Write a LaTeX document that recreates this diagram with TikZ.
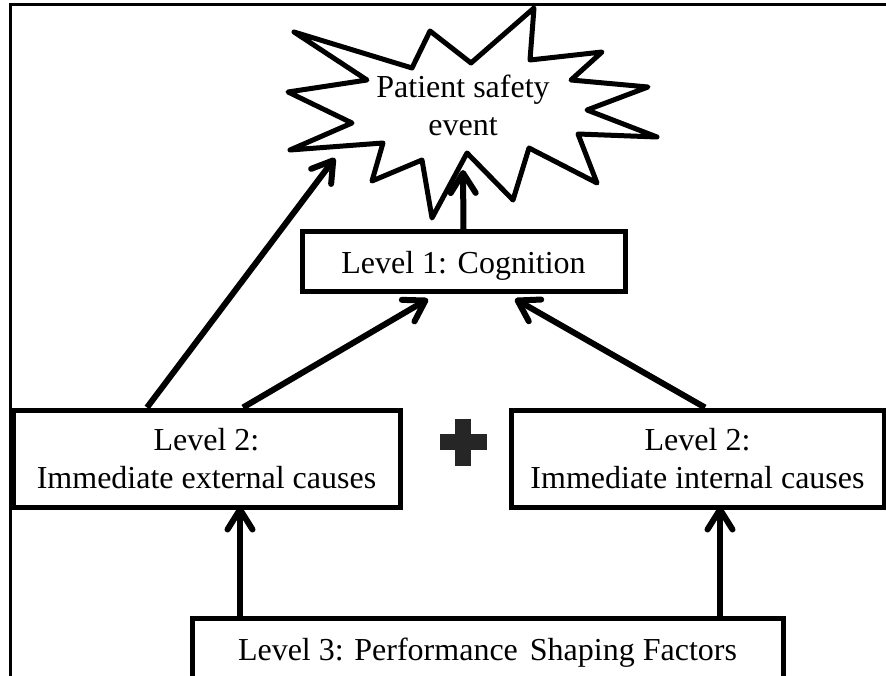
\documentclass[tikz,border=0pt]{standalone}
\usepackage{fontspec}
\setmainfont{Liberation Serif}
\usetikzlibrary{arrows.meta}
\definecolor{plusgray}{HTML}{262626}
\begin{document}
\begin{tikzpicture}[x=1pt,y=-1pt,
  lvl/.style={draw, line width=5pt, inner sep=0pt, align=center,
    font=\fontsize{32}{38}\selectfont},
  label/.style={inner sep=0pt, align=center, font=\fontsize{32}{38}\selectfont},
  flow/.style={line width=6pt, line cap=butt,
    -{Straight Barb[length=20pt, width=25pt, round]}},
  burst/.style={line width=5pt, line join=round}]
\useasboundingbox (0,0) rectangle (886,676);
\clip (0,0) rectangle (886,676);

% outer frame (left and top edges)
\draw[line width=3pt] (10,676) -- (10,5) -- (886,5);

% starburst around the event
\draw[burst] (294,32) -- (412,68) -- (430,31) -- (471,63) -- (534,8)
  -- (530,60) -- (602,52) -- (571,80) -- (648,87) -- (587,110)
  -- (657,137) -- (578,134) -- (597,183) -- (529,148) -- (513,200)
  -- (467,153) -- (432,218) -- (422,160) -- (372,181) -- (383,143)
  -- (290,150) -- (352,123) -- (288,92) -- (367,80) -- cycle;
\node[label] (event) at (463,105) {Patient safety\\event};
\coordinate (evL) at (335,158);
\coordinate (evB) at (463,170);

% level boxes
\node[lvl, minimum width=323pt, minimum height=60pt,
      text height=30pt, text depth=6pt] (cog) at (463.5,262) {Level 1: Cognition};
\node[lvl, minimum width=387pt, minimum height=97pt] (ext) at (206.5,458.5)
  {Level 2:\\Immediate external causes};
\node[lvl, minimum width=373pt, minimum height=97pt] (int) at (697.5,458.5)
  {Level 2:\\Immediate internal causes};
\node[lvl, minimum width=591pt, minimum height=69pt] (psf) at (487.5,652.5)
  {Level 3: Performance\hspace{12pt}Shaping Factors};
\coordinate (cogL) at (428,299);
\coordinate (cogR) at (515,299);

% plus sign between the two level-2 boxes
\fill[plusgray] (455,419) rectangle (471,466);
\fill[plusgray] (440,434) rectangle (487,450);

% connectors
\draw[flow] (ext.north -| 147,0) -- (evL);
\draw[flow] (cog.north) -- (evB);
\draw[flow] (ext.north -| 243,0) -- (cogL);
\draw[flow] (int.north -| 705,0) -- (cogR);
\draw[flow] (psf.north -| 240,0) -- ([yshift=3pt]ext.south -| 240,0);
\draw[flow] (psf.north -| 720,0) -- ([yshift=3pt]int.south -| 720,0);
\end{tikzpicture}
\end{document}
